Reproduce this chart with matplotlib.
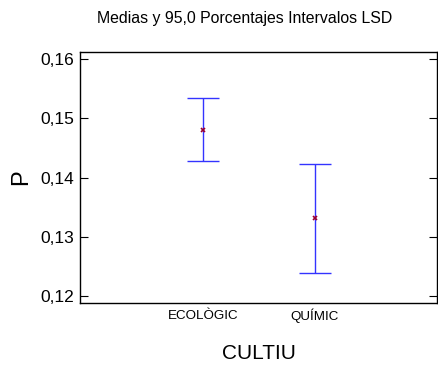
import matplotlib
matplotlib.use("Agg")
import matplotlib.pyplot as plt
from matplotlib.ticker import FuncFormatter

plt.rcParams["font.family"] = ["Liberation Sans", "DejaVu Sans"]

categories = ["ECOLÒGIC", "QUÍMIC"]
means = [0.1480, 0.1333]
lower = [0.1428, 0.1240]
upper = [0.1534, 0.1424]

fig = plt.figure(figsize=(4.38, 3.65), dpi=100)
ax = fig.add_axes([80 / 438, 1 - 303 / 365, 357 / 438, 251 / 365])

x = [1, 2]
yerr = [[m - lo for m, lo in zip(means, lower)], [up - m for m, up in zip(means, upper)]]
ax.errorbar(x, means, yerr=yerr, fmt="none", ecolor="#3333ff", elinewidth=1.0,
            capsize=11.5, capthick=1.0)
ax.plot(x, means, linestyle="None", marker="x", markersize=3, color="#990033", mew=1.2)

ax.set_xlim(-0.098, 3.089)
ax.set_ylim(0.1189, 0.1612)
ax.set_yticks([0.12, 0.13, 0.14, 0.15, 0.16])
ax.yaxis.set_major_formatter(FuncFormatter(lambda v, p: f"{v:.2f}".replace(".", ",")))
ax.set_xticks(x)
ax.set_xticklabels(categories, fontsize=9.6)
for lab in ax.get_xticklabels():
    lab.set_va("center")
ax.tick_params(axis="x", length=0, pad=9.4)
ax.tick_params(axis="y", direction="in", length=6, right=True, labelsize=12.5, pad=4)
for s in ax.spines.values():
    s.set_linewidth(1.0)

ax.set_ylabel("P", fontsize=17, labelpad=6)
ax.set_xlabel("CULTIU", fontsize=15, labelpad=15)
fig.text(245 / 438, 1 - 18 / 365, "Medias y 95,0 Porcentajes Intervalos LSD",
         ha="center", va="center", fontsize=11.4)

fig.savefig("out.png", dpi=100)
